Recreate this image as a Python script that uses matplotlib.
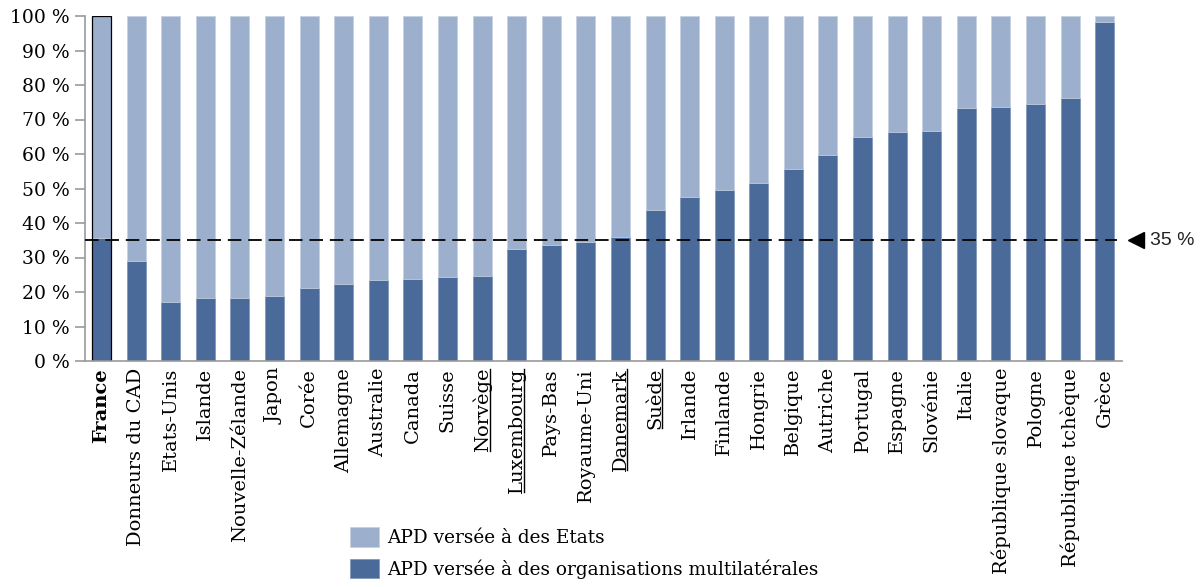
import matplotlib
matplotlib.use("Agg")
import matplotlib.pyplot as plt
from matplotlib.lines import Line2D
from matplotlib.transforms import blended_transform_factory

pays = ["France", "Donneurs du CAD", "Etats-Unis", "Islande", "Nouvelle-Zélande",
        "Japon", "Corée", "Allemagne", "Australie", "Canada", "Suisse", "Norvège",
        "Luxembourg", "Pays-Bas", "Royaume-Uni", "Danemark", "Suède", "Irlande",
        "Finlande", "Hongrie", "Belgique", "Autriche", "Portugal", "Espagne",
        "Slovénie", "Italie", "République slovaque", "Pologne", "République tchèque",
        "Grèce"]
multilat = [35.6, 28.9, 17.1, 18.2, 18.2, 18.9, 21.3, 22.4, 23.5, 23.8, 24.4, 24.7,
            32.4, 33.5, 34.4, 35.9, 43.7, 47.5, 49.5, 51.6, 55.6, 59.6, 64.9, 66.3,
            66.8, 73.2, 73.6, 74.5, 76.2, 98.2]
etats = [100 - v for v in multilat]
soulignes = ["Norvège", "Luxembourg", "Danemark", "Suède"]
seuil = 35

c_dark = "#4a6a9a"
c_light = "#9cafcd"

plt.rcParams["font.family"] = "DejaVu Serif"
fig = plt.figure(figsize=(12.02, 5.87), dpi=100)
ax = fig.add_axes([85 / 1202, 1 - 361 / 587, (1122 - 85) / 1202, (361 - 16) / 587])

x = list(range(len(pays)))
ax.bar(x, multilat, width=0.55, color=c_dark, edgecolor="#7d93b8", linewidth=0.5,
       label="APD versée à des organisations multilatérales")
ax.bar(x, etats, width=0.55, bottom=multilat, color=c_light, edgecolor="#c3cfe2",
       linewidth=0.5, label="APD versée à des Etats")
# contour noir autour de la France
ax.bar(0, multilat[0] + etats[0], width=0.55, fill=False, edgecolor="black", linewidth=0.9)

ax.set_xlim(-0.48, len(pays) - 0.5)
ax.set_ylim(0, 100)
ax.set_yticks(range(0, 101, 10))
ax.set_yticklabels([f"{t} %" for t in range(0, 101, 10)], fontsize=13.5)
ax.set_xticks(x)
ax.set_xticklabels(pays, rotation=90, fontsize=14)
ax.get_xticklabels()[0].set_fontweight("bold")
ax.tick_params(axis="x", length=0, pad=5)
ax.tick_params(axis="y", length=7, color="#999999", width=1.2, pad=4)
for s in ["top", "right"]:
    ax.spines[s].set_visible(False)
for s in ["left", "bottom"]:
    ax.spines[s].set_color("#999999")
    ax.spines[s].set_linewidth(1.2)

ax.axhline(seuil, xmin=0, xmax=0.995, color="black", lw=1.3, ls=(0, (7.5, 3.8)), zorder=3)
tr = blended_transform_factory(ax.transAxes, ax.transData)
ax.plot([1.0135], [seuil], marker="<", markersize=11, color="black", transform=tr,
        clip_on=False)
ax.text(1.027, seuil, f"{seuil} %", transform=tr, va="center", ha="left",
        fontsize=14, family="Liberation Sans", color="#222222")

h, l = ax.get_legend_handles_labels()
fig.legend(h[::-1], l[::-1], loc="lower left", bbox_to_anchor=(333 / 1202, -0.014),
           frameon=False, fontsize=13.3, handlelength=1.6, handleheight=1.25,
           handletextpad=0.45, labelspacing=0.62)

# soulignement de certains pays
fig.canvas.draw()
inv = fig.transFigure.inverted()
for lab in ax.get_xticklabels():
    if lab.get_text() in soulignes:
        bb = lab.get_window_extent()
        xx = bb.x1 - 2
        p0 = inv.transform((xx, bb.y0 + 1))
        p1 = inv.transform((xx, bb.y1 - 1))
        fig.add_artist(Line2D([p0[0], p1[0]], [p0[1], p1[1]], color="black", lw=1))

fig.savefig("out.png", dpi=100)
